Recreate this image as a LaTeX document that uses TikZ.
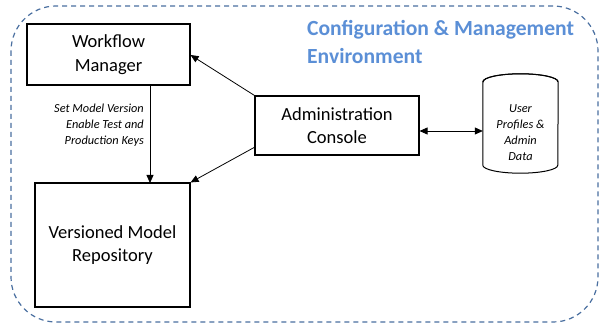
\documentclass[tikz,border=0pt]{standalone}
\usepackage{fontspec}
\setmainfont{Carlito}
\usetikzlibrary{arrows.meta}
\definecolor{envline}{HTML}{4A6FA0}
\definecolor{envtitle}{HTML}{5B8FD6}
\tikzset{
  box/.style={draw, line width=1.1pt, align=center, font=\fontsize{18.5}{23.5}\selectfont, inner sep=0pt},
  note/.style={align=right, font=\itshape\fontsize{12.3}{16}\selectfont, inner sep=0pt},
  link/.style={line width=0.8pt, -{Triangle[length=8pt,width=7pt]}},
  envbox/.style={draw=envline, line width=1.2pt, dash pattern=on 5pt off 4pt, rounded corners=45pt}
}
\begin{document}
\begin{tikzpicture}[x=1pt,y=-1pt]
\useasboundingbox (0,0) rectangle (606,323);
% environment frame
\draw[envbox] (11,6) rectangle (598,322);
\node[anchor=north west, align=left, text=envtitle, font=\bfseries\fontsize{21.6}{28}\selectfont, inner sep=0pt] (title) at (307,20) {Configuration \& Management\\Environment};
% components
\node[box, minimum width=163pt, minimum height=61pt] (wm) at (108.5,54.5) {Workflow\\Manager};
\node[box, minimum width=155pt, minimum height=124pt] (repo) at (112.5,245) {Versioned Model\\Repository};
\node[box, minimum width=164pt, minimum height=59pt] (admin) at (337,125.5) {Administration\\Console};
% data store
\node[minimum width=75pt, minimum height=83pt, inner sep=0pt] (db) at (520.5,123.5) {};
\draw[line width=1pt, fill=white] (db.north west) -- (db.south west)
  arc[start angle=180, end angle=360, x radius=37.5pt, y radius=8pt]
  -- (db.north east) arc[start angle=0, end angle=180, x radius=37.5pt, y radius=8pt] -- cycle;
\draw[line width=1pt] (db.north west) arc[start angle=180, end angle=360, x radius=37.5pt, y radius=-8pt];
\node[note, align=center] (dbtext) at (520.5,133) {User\\Profiles \&\\Admin\\Data};
% connectors
\coordinate (wmout) at (150,85);
\coordinate (repoin) at (150,183);
\draw[link] (wmout) -- (repoin);
\node[note, anchor=east] (keys) at (144,125) {Set Model Version\\Enable Test and\\Production Keys};
\draw[link] (admin.north west) -- (wm.east |- 0,55);
\draw[link] (255,147) -- (repo.north east);
\draw[line width=0.8pt, {Triangle[length=8pt,width=7pt]}-{Triangle[length=8pt,width=7pt]}] (admin.east |- 0,131) -- (db.west |- 0,131);
\end{tikzpicture}
\end{document}
